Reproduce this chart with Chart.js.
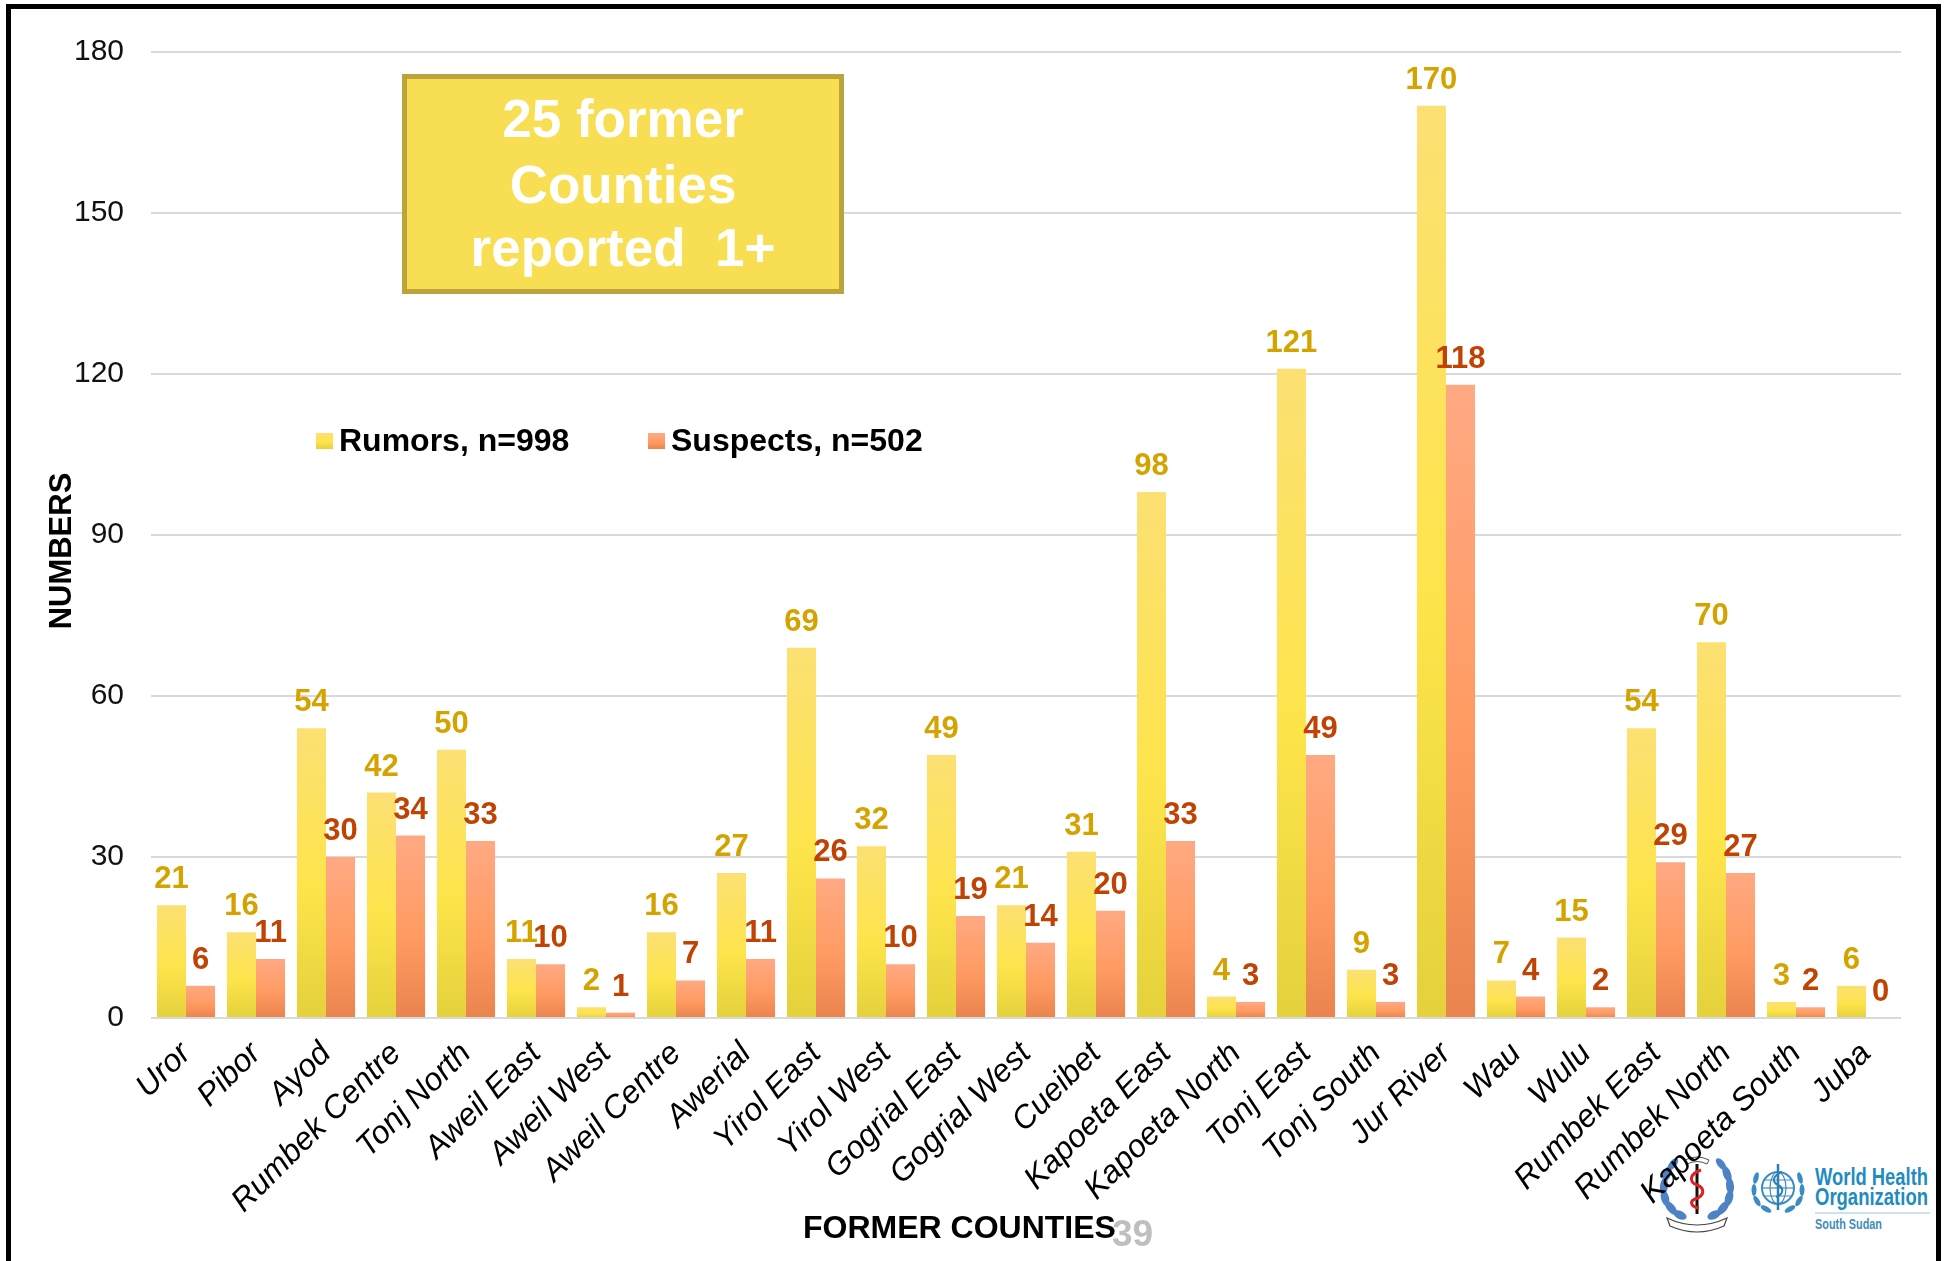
<!DOCTYPE html>
<html>
<head>
<meta charset="utf-8">
<script src="https://cdn.jsdelivr.net/npm/chart.js@4/dist/chart.umd.min.js"></script>
<style>
  html, body { margin: 0; padding: 0; background: #fff; }
  body { width: 1944px; height: 1261px; position: relative; overflow: hidden; font-family: 'Liberation Sans', Arial, sans-serif; }
  #wrap { position: absolute; left: 0; top: 0; width: 1944px; height: 1261px; z-index: 2; }
  #frame { position: absolute; left: 6px; top: 4px; width: 1925px; height: 1300px; border-top: 5px solid #000; border-left: 5px solid #000; border-right: 5px solid #000; z-index: 3; pointer-events: none; }
  #logos { position: absolute; left: 1650px; top: 1150px; width: 285px; height: 90px; z-index: 1; }
</style>
</head>
<body>
<div id="logos">
<svg width="285" height="90" viewBox="0 0 285 90" xmlns="http://www.w3.org/2000/svg">
  <!-- Ministry of Health emblem -->
  <g transform="translate(47,38)">
    <g fill="#4F82C4">
      <ellipse cx="-30" cy="-14" rx="4" ry="8" transform="rotate(20 -30 -14)"/>
      <ellipse cx="-33" cy="-2" rx="4" ry="8" transform="rotate(5 -33 -2)"/>
      <ellipse cx="-32" cy="10" rx="4" ry="8" transform="rotate(-15 -32 10)"/>
      <ellipse cx="-26" cy="20" rx="4" ry="8" transform="rotate(-40 -26 20)"/>
      <ellipse cx="-17" cy="27" rx="4" ry="7" transform="rotate(-65 -17 27)"/>
      <ellipse cx="-24" cy="-24" rx="3.5" ry="7" transform="rotate(40 -24 -24)"/>
      <ellipse cx="30" cy="-14" rx="4" ry="8" transform="rotate(-20 30 -14)"/>
      <ellipse cx="33" cy="-2" rx="4" ry="8" transform="rotate(-5 33 -2)"/>
      <ellipse cx="32" cy="10" rx="4" ry="8" transform="rotate(15 32 10)"/>
      <ellipse cx="26" cy="20" rx="4" ry="8" transform="rotate(40 26 20)"/>
      <ellipse cx="17" cy="27" rx="4" ry="7" transform="rotate(65 17 27)"/>
      <ellipse cx="24" cy="-24" rx="3.5" ry="7" transform="rotate(-40 24 -24)"/>
    </g>
    <path d="M-12,-28 Q0,-34 12,-28 L10,-24 Q0,-29 -10,-24 Z" fill="#fff" stroke="#555" stroke-width="1"/>
    <line x1="0" y1="-24" x2="0" y2="26" stroke="#111" stroke-width="3"/>
    <path d="M4,-18 C-8,-14 -8,-6 0,-3 C8,0 8,8 -2,11 C-8,13 -6,19 2,20" fill="none" stroke="#E02020" stroke-width="3"/>
    <path d="M-30,30 Q0,44 30,30 L27,38 Q0,50 -27,38 Z" fill="#fff" stroke="#444" stroke-width="1.2"/>
  </g>
  <!-- WHO emblem -->
  <g transform="translate(128,38)">
    <circle cx="0" cy="0" r="16" fill="none" stroke="#3A8DC4" stroke-width="2"/>
    <ellipse cx="0" cy="0" rx="8" ry="16" fill="none" stroke="#3A8DC4" stroke-width="1.2"/>
    <line x1="-16" y1="0" x2="16" y2="0" stroke="#3A8DC4" stroke-width="1.2"/>
    <line x1="-14" y1="-8" x2="14" y2="-8" stroke="#3A8DC4" stroke-width="1"/>
    <line x1="-14" y1="8" x2="14" y2="8" stroke="#3A8DC4" stroke-width="1"/>
    <g fill="#3A8DC4">
      <ellipse cx="-22" cy="-10" rx="2.5" ry="6" transform="rotate(15 -22 -10)"/>
      <ellipse cx="-24" cy="2" rx="2.5" ry="6"/>
      <ellipse cx="-21" cy="13" rx="2.5" ry="6" transform="rotate(-30 -21 13)"/>
      <ellipse cx="-12" cy="21" rx="2.5" ry="6" transform="rotate(-60 -12 21)"/>
      <ellipse cx="22" cy="-10" rx="2.5" ry="6" transform="rotate(-15 22 -10)"/>
      <ellipse cx="24" cy="2" rx="2.5" ry="6"/>
      <ellipse cx="21" cy="13" rx="2.5" ry="6" transform="rotate(30 21 13)"/>
      <ellipse cx="12" cy="21" rx="2.5" ry="6" transform="rotate(60 12 21)"/>
    </g>
    <line x1="0" y1="-24" x2="0" y2="22" stroke="#2F7FB5" stroke-width="2.5"/>
    <path d="M4,-16 C-6,-12 -6,-6 0,-3 C6,0 6,6 -2,9" fill="none" stroke="#2F7FB5" stroke-width="2"/>
  </g>
  <text x="165" y="35" font-family="'Liberation Sans', Arial, sans-serif" font-weight="bold" font-size="23" fill="#1F8CC0" textLength="113" lengthAdjust="spacingAndGlyphs">World Health</text>
  <text x="165" y="55" font-family="'Liberation Sans', Arial, sans-serif" font-weight="bold" font-size="23" fill="#1F8CC0" textLength="113" lengthAdjust="spacingAndGlyphs">Organization</text>
  <line x1="165" y1="63" x2="280" y2="63" stroke="#9CC5DC" stroke-width="1"/>
  <text x="165" y="79" font-family="'Liberation Sans', Arial, sans-serif" font-weight="bold" font-size="15" fill="#3F8CB8" textLength="67" lengthAdjust="spacingAndGlyphs">South Sudan</text>
</svg>
</div>
<div id="wrap"><canvas id="c" width="1944" height="1261"></canvas></div>
<div id="frame"></div>
<script>
// ---- data ----
const categories = ['Uror','Pibor','Ayod','Rumbek Centre','Tonj North','Aweil East','Aweil West','Aweil Centre','Awerial','Yirol East','Yirol West','Gogrial East','Gogrial West','Cueibet','Kapoeta East','Kapoeta North','Tonj East','Tonj South','Jur River','Wau','Wulu','Rumbek East','Rumbek North','Kapoeta South','Juba'];
const rumors   = [21,16,54,42,50,11,2,16,27,69,32,49,21,31,98,4,121,9,170,7,15,54,70,3,6];
const suspects = [6,11,30,34,33,10,1,7,11,26,10,19,14,20,33,3,49,3,118,4,2,29,27,2,0];
const seriesNames = ['Rumors, n=998','Suspects, n=502'];
const yTicks = [0,30,60,90,120,150,180];
const yAxisTitle = 'NUMBERS';
const xAxisTitle = 'FORMER COUNTIES';
const noteLines = ['25 former','Counties','reported  1+'];
const slideNumber = '39';

// ---- styles ----
const FONT = "'Liberation Sans', Arial, sans-serif";
const yellowStops = ['#FCE073','#FEE44B','#E4D13B'];
const redStops = ['#FFA983','#FF9B62','#EA844F'];
const labelColors = ['#D5A300','#C04304'];

function barGrad(stops) {
  return (ctx) => {
    const chart = ctx.chart;
    const ys = chart.scales && chart.scales.y;
    if (!ys || ctx.type !== 'data') return stops[1];
    const top = ys.getPixelForValue(ctx.raw);
    const bottom = ys.getPixelForValue(0);
    if (!isFinite(top) || !isFinite(bottom) || bottom - top < 1) return stops[1];
    const g = chart.ctx.createLinearGradient(0, top, 0, bottom);
    g.addColorStop(0, stops[0]);
    g.addColorStop(0.55, stops[1]);
    g.addColorStop(1, stops[2]);
    return g;
  };
}

const decorations = {
  id: 'decorations',
  afterDatasetsDraw(chart) {
    const ctx = chart.ctx;
    ctx.save();
    ctx.font = 'bold 31px ' + FONT;
    ctx.textAlign = 'center';
    ctx.textBaseline = 'alphabetic';
    chart.data.datasets.forEach((ds, i) => {
      const meta = chart.getDatasetMeta(i);
      ctx.fillStyle = labelColors[i];
      meta.data.forEach((bar, j) => {
        ctx.fillText(String(ds.data[j]), bar.x, bar.y - 17);
      });
    });
    ctx.restore();
  },
  afterDraw(chart) {
    const ctx = chart.ctx;
    ctx.save();
    // note box
    ctx.fillStyle = '#F8DE52';
    ctx.fillRect(402, 74, 442, 220);
    ctx.strokeStyle = '#BCA43C';
    ctx.lineWidth = 5;
    ctx.strokeRect(404.5, 76.5, 437, 215);
    ctx.fillStyle = '#FFFFFF';
    ctx.font = 'bold 53px ' + FONT;
    ctx.textAlign = 'center';
    ctx.textBaseline = 'alphabetic';
    const bl = [137, 203, 266];
    noteLines.forEach((t, i) => ctx.fillText(t, 623, bl[i]));

    // legend
    const legX = [316, 648];
    const stops = [yellowStops, redStops];
    ctx.font = 'bold 32px ' + FONT;
    ctx.textAlign = 'left';
    seriesNames.forEach((name, i) => {
      const g = ctx.createLinearGradient(0, 433, 0, 449);
      g.addColorStop(0, stops[i][0]);
      g.addColorStop(0.55, stops[i][1]);
      g.addColorStop(1, stops[i][2]);
      ctx.fillStyle = g;
      ctx.fillRect(legX[i], 433, 17, 16);
      ctx.fillStyle = '#000';
      ctx.fillText(name, legX[i] + 23, 451);
    });

    // y axis title
    ctx.save();
    ctx.translate(71, 551);
    ctx.rotate(-Math.PI / 2);
    ctx.font = 'bold 31px ' + FONT;
    ctx.textAlign = 'center';
    ctx.textBaseline = 'alphabetic';
    ctx.fillStyle = '#000';
    ctx.fillText(yAxisTitle, 0, 0);
    ctx.restore();

    // x axis title
    ctx.font = 'bold 32px ' + FONT;
    ctx.textAlign = 'left';
    ctx.fillStyle = '#000';
    ctx.fillText(xAxisTitle, 803, 1238);

    // slide number
    ctx.font = 'bold 37px ' + FONT;
    ctx.fillStyle = '#BFBFBF';
    ctx.fillText(slideNumber, 1112, 1246);
    ctx.restore();
  }
};

new Chart(document.getElementById('c'), {
  type: 'bar',
  data: {
    labels: categories,
    datasets: [
      { label: seriesNames[0], data: rumors, backgroundColor: barGrad(yellowStops), borderWidth: 0 },
      { label: seriesNames[1], data: suspects, backgroundColor: barGrad(redStops), borderWidth: 0 }
    ]
  },
  options: {
    responsive: false,
    animation: false,
    devicePixelRatio: 1,
    layout: { autoPadding: false, padding: { top: 52, right: 43, left: 0, bottom: 0 } },
    plugins: { legend: { display: false }, tooltip: { enabled: false } },
    datasets: { bar: { categoryPercentage: 0.83, barPercentage: 1.0 } },
    scales: {
      x: {
        grid: { display: false, drawTicks: false },
        border: { display: false },
        ticks: {
          autoSkip: false, minRotation: 45, maxRotation: 45,
          color: '#000', padding: 17,
          font: { family: FONT, size: 32, style: 'italic' }
        },
        afterFit: (s) => { s.height = 243; }
      },
      y: {
        min: 0, max: 180,
        grid: { color: '#D9D9D9', lineWidth: 2, drawTicks: false },
        border: { display: false },
        ticks: { color: '#111', padding: 27, font: { family: FONT, size: 30 } },
        afterBuildTicks: (s) => { s.ticks = yTicks.map(v => ({ value: v })); },
        afterFit: (s) => { s.width = 151; }
      }
    }
  },
  plugins: [decorations]
});
</script>
</body>
</html>
